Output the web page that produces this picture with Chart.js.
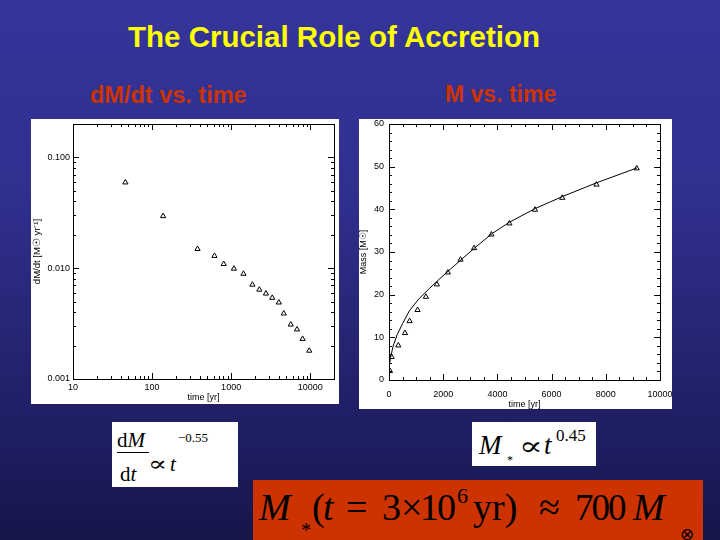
<!DOCTYPE html>
<html>
<head>
<meta charset="utf-8">
<script src="https://cdn.jsdelivr.net/npm/chart.js@4.4.1/dist/chart.umd.min.js"></script>
<style>
    body {
        margin: 0;
        width: 720px;
        height: 540px;
        overflow: hidden;
        position: relative;
        background: linear-gradient(to bottom, #34349a 0%, #30308f 35%, #1c1c5e 85%, #151549 100%);
        font-family: "Liberation Sans", Arial, sans-serif;
    }
    .abs { position: absolute; white-space: nowrap; line-height: 1; }
    .serif { font-family: "Liberation Serif", "Times New Roman", serif; color: #000; }
    .sym { font-family: "DejaVu Serif", serif; transform-origin: 0 50%; }
    canvas { position: absolute; background: #fff; }
    .box { position: absolute; background: #fff; }
</style>
</head>
<body>
<canvas id="rateChart" width="308" height="285" style="left:31px;top:119px"></canvas>
<canvas id="massChart" width="313" height="290" style="left:359px;top:119px"></canvas>

<div class="box" style="left:112px;top:422px;width:126px;height:65px"></div>
<div class="box" style="left:472px;top:422px;width:124px;height:44px"></div>
<div class="box" style="left:253px;top:480px;width:450px;height:60px;background:#cc3300"></div>
<div class="box" style="left:117px;top:452px;width:32px;height:1px;background:#000"></div>

<script>
// dM/dt vs. time (log-log)
const rateTime = [46, 138, 376, 615, 805, 1084, 1433, 1858, 2275, 2756, 3311, 4010, 4634, 5675, 6808, 8017, 9727];
const rateValue = [0.0594, 0.0295, 0.0149, 0.0129, 0.0109, 0.0099, 0.0089, 0.0071, 0.0064, 0.0059, 0.0054, 0.0049, 0.0039, 0.0031, 0.0028, 0.0023, 0.0018];
const rateXTicks = [10, 100, 1000, 10000];
const rateYTicks = [0.001, 0.01, 0.1];

// M vs. time (linear)
const massTime = [37, 98, 344, 589, 761, 1055, 1362, 1767, 2172, 2638, 3141, 3779, 4442, 5387, 6393, 7656, 9141];
const massValue = [2.1, 5.4, 8.1, 11.0, 13.8, 16.4, 19.5, 22.4, 25.2, 28.2, 30.9, 34.1, 36.7, 39.9, 42.7, 45.8, 49.6];
// fitted curve
const fitTime = [1, 5, 20, 60, 150, 300, 500, 750, 1100, 1500, 1850, 2200, 2700, 3150, 3800, 4450, 5400, 6400, 7650, 9150];
const fitMass = [0.8, 2.0, 3.5, 5.3, 7.9, 10.6, 13.2, 16.2, 19.0, 21.5, 23.6, 25.6, 28.4, 30.9, 34.3, 37.0, 40.2, 43.0, 46.2, 49.7];
const massXTicks = [0, 2000, 4000, 6000, 8000, 10000];
const massYTicks = [0, 10, 20, 30, 40, 50, 60];

Chart.defaults.font.family = '"Liberation Sans", Arial, sans-serif';
Chart.defaults.color = '#000';

function put(html, x, base, size, cls, style) {
    const el = document.createElement('div');
    el.className = 'abs ' + (cls || '');
    el.innerHTML = html;
    el.style.left = x + 'px';
    el.style.top = (base - size * 0.84) + 'px';
    el.style.fontSize = size + 'px';
    if (style) el.style.cssText += style;
    document.body.appendChild(el);
}

// slide text
put('The Crucial Role of Accretion', 128, 47, 29.5, '', 'font-weight:bold;color:#ffff00');
put('dM/dt vs. time', 90, 104, 23.5, '', 'font-weight:bold;color:#cc3300');
put('M vs. time', 445, 102, 23, '', 'font-weight:bold;color:#cc3300');

// formula boxes
put('d<i>M</i>', 117, 448, 21, 'serif');
put('d<i>t</i>', 120, 482, 21, 'serif');
put('&prop;', 148, 472, 21, 'serif sym', 'transform:scaleX(1.35)');
put('<i>t</i>', 170, 472, 21, 'serif');
put('&minus;0.55', 178, 442, 13, 'serif');

put('<i>M</i>', 479, 455, 27, 'serif');
put('*', 507, 464, 12, 'serif');
put('&prop;', 519, 455, 26, 'serif sym', 'transform:scaleX(1.35)');
put('<i>t</i>', 544, 455, 27, 'serif');
put('0.45', 556, 441, 17, 'serif');

put('<i>M</i>', 259, 520, 38, 'serif');
put('*', 301, 537, 20, 'serif');
put('(', 312, 520, 38, 'serif');
put('<i>t</i>', 323, 520, 38, 'serif');
put('=', 346, 520, 38, 'serif');
put('3', 382, 520, 38, 'serif');
put('&times;', 401, 520, 38, 'serif');
put('10', 420, 520, 38, 'serif', 'letter-spacing:-2px');
put('6', 457, 503, 22, 'serif');
put('yr)', 473, 520, 38, 'serif');
put('&asymp;', 539, 520, 38, 'serif');
put('700', 575, 520, 37, 'serif', 'letter-spacing:-2px');
put('<i>M</i>', 633, 520, 38, 'serif');
put('&otimes;', 680, 540, 17, 'serif');

// box round the plot with IDL style inward ticks on all four sides
const boxTicks = {
    id: 'boxTicks',
    afterDraw(chart, args, opts) {
        const { ctx, chartArea: a, scales } = chart;
        ctx.save();
        ctx.strokeStyle = '#000';
        ctx.lineWidth = 1;
        ctx.strokeRect(Math.round(a.left) + 0.5, Math.round(a.top) + 0.5, Math.round(a.width), Math.round(a.height));
        const mark = (scale, v, len) => {
            const p = Math.round(scale.getPixelForValue(v)) + 0.5;
            ctx.beginPath();
            if (scale.isHorizontal()) {
                ctx.moveTo(p, a.bottom); ctx.lineTo(p, a.bottom - len);
                ctx.moveTo(p, a.top); ctx.lineTo(p, a.top + len);
            } else {
                ctx.moveTo(a.left, p); ctx.lineTo(a.left + len, p);
                ctx.moveTo(a.right, p); ctx.lineTo(a.right - len, p);
            }
            ctx.stroke();
        };
        opts.minorX.forEach(v => mark(scales.x, v, 3));
        opts.minorY.forEach(v => mark(scales.y, v, 3));
        scales.x.ticks.forEach(t => mark(scales.x, t.value, 6));
        scales.y.ticks.forEach(t => mark(scales.y, t.value, 6));
        ctx.restore();
    }
};

function logMinors(lo, hi) {
    const out = [];
    for (let d = lo; d < hi; d *= 10) {
        for (let k = 2; k <= 9; k++) if (d * k <= hi) out.push(d * k);
    }
    return out;
}
function linMinors(lo, hi, step) {
    const out = [];
    for (let v = lo; v <= hi; v += step) out.push(v);
    return out;
}

function setTicks(list) {
    return s => { s.ticks = list.map(v => ({ value: v })); };
}

const noGrid = { display: false, drawTicks: false, tickLength: 0 };

const tri = {
    pointStyle: 'triangle',
    pointRadius: 3,
    borderColor: '#000',
    backgroundColor: 'rgba(0,0,0,0)',
    borderWidth: 1
};

new Chart(document.getElementById('rateChart'), {
    type: 'scatter',
    data: {
        datasets: [{ ...tri, data: rateTime.map((t, i) => ({ x: t, y: rateValue[i] })) }]
    },
    options: {
        responsive: false,
        animation: false,
        layout: { padding: { top: 3, right: 3, left: 0, bottom: 0 } },
        plugins: {
            legend: { display: false },
            tooltip: { enabled: false },
            boxTicks: { minorX: logMinors(10, 20000), minorY: logMinors(0.001, 0.2) }
        },
        scales: {
            x: {
                type: 'logarithmic', min: 10, max: 20000,
                afterBuildTicks: setTicks(rateXTicks),
                afterFit: s => { s.height = 25; s.paddingLeft = 0; s.paddingRight = 0; },
                grid: noGrid, border: { display: false },
                ticks: { font: { size: 9 }, padding: 3, maxRotation: 0, autoSkip: false, callback: v => String(v) },
                title: { display: true, text: 'time [yr]', font: { size: 9, lineHeight: 1 }, padding: { top: 0, bottom: 1.5 } }
            },
            y: {
                type: 'logarithmic', min: 0.001, max: 0.2,
                afterBuildTicks: setTicks(rateYTicks),
                afterFit: s => { s.width = 42; s.paddingTop = 0; s.paddingBottom = 0; },
                grid: noGrid, border: { display: false },
                ticks: { font: { size: 9 }, padding: 3, autoSkip: false, callback: v => Number(v).toFixed(3) },
                title: { display: true, text: 'dM/dt [M\u2609 yr\u207B\u00B9]', font: { size: 9.5, lineHeight: 1 }, padding: { top: 2, bottom: 0 } }
            }
        }
    },
    plugins: [boxTicks]
});

new Chart(document.getElementById('massChart'), {
    type: 'scatter',
    data: {
        datasets: [
            { ...tri, data: massTime.map((t, i) => ({ x: t, y: massValue[i] })) },
            {
                data: fitTime.map((t, i) => ({ x: t, y: fitMass[i] })),
                showLine: true, pointRadius: 0, borderColor: '#000', borderWidth: 1, tension: 0, fill: false
            }
        ]
    },
    options: {
        responsive: false,
        animation: false,
        layout: { padding: { top: 5, right: 12, left: 0, bottom: 0 } },
        plugins: {
            legend: { display: false },
            tooltip: { enabled: false },
            boxTicks: { minorX: linMinors(500, 9500, 500), minorY: linMinors(2, 58, 2) }
        },
        scales: {
            x: {
                type: 'linear', min: 0, max: 10000,
                afterBuildTicks: setTicks(massXTicks),
                afterFit: s => { s.height = 29; s.paddingLeft = 0; s.paddingRight = 0; },
                grid: noGrid, border: { display: false },
                ticks: { font: { size: 9 }, padding: 9, maxRotation: 0, autoSkip: false, callback: v => String(v) },
                title: { display: true, text: 'time [yr]', font: { size: 9, lineHeight: 1 }, padding: { top: 0, bottom: 0 } }
            },
            y: {
                type: 'linear', min: 0, max: 60,
                afterBuildTicks: setTicks(massYTicks),
                afterFit: s => { s.width = 30; s.paddingTop = 0; s.paddingBottom = 0; },
                grid: noGrid, border: { display: false },
                ticks: { font: { size: 9 }, padding: 5, autoSkip: false, callback: v => String(v) },
                title: { display: true, text: 'Mass [M\u2609]', font: { size: 9, lineHeight: 1 }, padding: { top: 0, bottom: 0 } }
            }
        }
    },
    plugins: [boxTicks]
});
</script>
</body>
</html>
